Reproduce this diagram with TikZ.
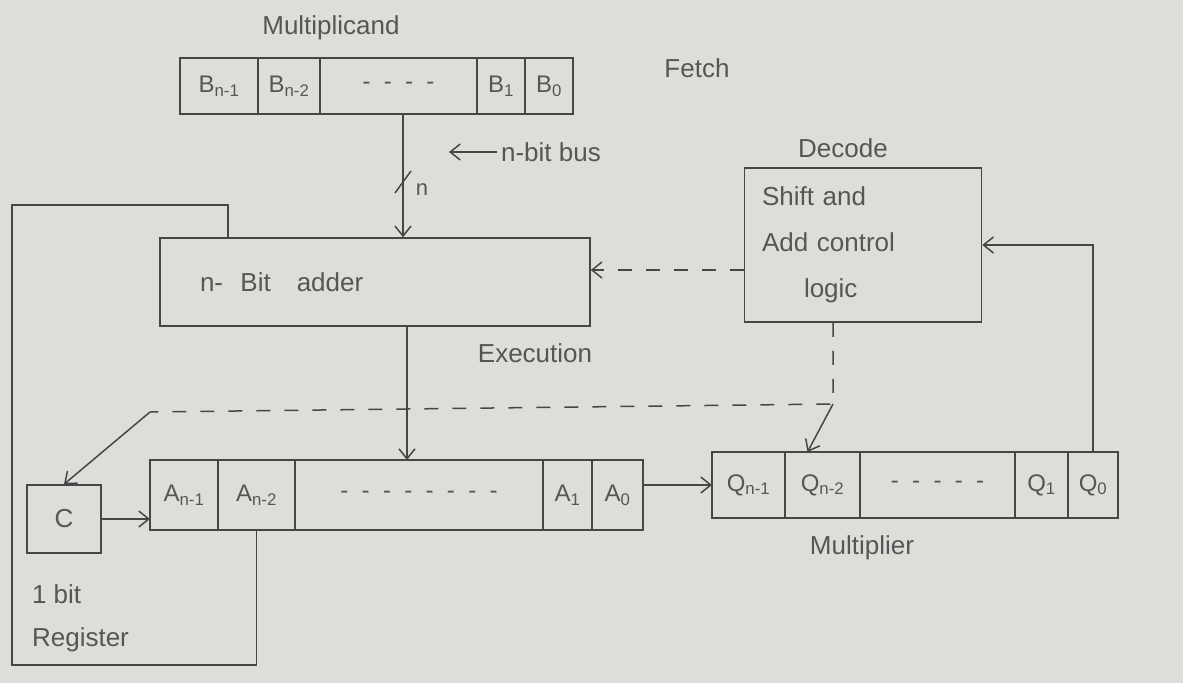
\documentclass[tikz,border=0pt]{standalone}
\usepackage{fontspec}
\setmainfont{Liberation Sans}
\usetikzlibrary{positioning,arrows.meta,calc}
\definecolor{pencil}{RGB}{70,70,70}
\definecolor{paper}{RGB}{221,221,217}
\definecolor{inkText}{RGB}{86,86,86}

\begin{document}
\begin{tikzpicture}[x=1pt, y=-1pt, line width=1.5pt, color=pencil, text=inkText,
    >={Straight Barb[length=10pt,width=16pt]},
    font=\fontsize{26}{31}\selectfont,
    cell/.style={draw, inner sep=0pt, outer sep=0pt, minimum width=#1,
      font=\fontsize{24}{28}\selectfont},
    brow/.style={cell=#1, minimum height=56pt},
    arow/.style={cell=#1, minimum height=70pt},
    qrow/.style={cell=#1, minimum height=66pt},
    dsh/.style={dash pattern=on 14pt off 14pt}]
  \useasboundingbox (0,0) rectangle (1183,683);
  \fill[paper] (0,0) rectangle (1183,683);

  % multiplicand register
  \node[brow=78pt] (b1) at (219,86) {B\textsubscript{n-1}};
  \node[brow=62pt, right=0pt of b1] (b2) {B\textsubscript{n-2}};
  \node[brow=157pt, right=0pt of b2] (b3) {-\ \ -\ \ -\ \ -};
  \node[brow=48pt, right=0pt of b3] (b4) {B\textsubscript{1}};
  \node[brow=48pt, right=0pt of b4] (b5) {B\textsubscript{0}};

  % adder and control logic
  \node[draw, minimum width=430pt, minimum height=88pt, text width=350pt, align=left] (adder) at (375,282) {n-\ \ Bit\ \ \ adder};
  \node[draw, minimum width=237pt, minimum height=154pt, text width=202pt, align=left,
    font=\fontsize{26}{46}\selectfont] (ctl) at (863,245) {Shift and\\Add control\\\hspace*{42pt}logic};

  % accumulator, carry and multiplier
  \node[draw, minimum width=74pt, minimum height=68pt, inner sep=0pt] (c) at (64,519) {C};
  \node[arow=68pt] (a1) at (184,495) {A\textsubscript{n-1}};
  \node[arow=77pt, right=0pt of a1] (a2) {A\textsubscript{n-2}};
  \node[arow=248pt, right=0pt of a2] (a3) {-\ \ -\ \ -\ \ -\ \ -\ \ -\ \ -\ \ -};
  \node[arow=49pt, right=0pt of a3] (a4) {A\textsubscript{1}};
  \node[arow=51pt, right=0pt of a4] (a5) {A\textsubscript{0}};
  \node[qrow=73pt] (q1) at (748.5,485) {Q\textsubscript{n-1}};
  \node[qrow=75pt, right=0pt of q1] (q2) {Q\textsubscript{n-2}};
  \node[qrow=155pt, right=0pt of q2] (q3) {-\ \ -\ \ -\ \ -\ \ -};
  \node[qrow=53pt, right=0pt of q3] (q4) {Q\textsubscript{1}};
  \node[qrow=50pt, right=0pt of q4] (q5) {Q\textsubscript{0}};

  % labels
  \node (mcand) at (331,28) {Multiplicand};
  \node (fetch) at (697,68) {Fetch};
  \node (decode) at (843,148) {Decode};
  \node (exec) at (535,353) {Execution};
  \node (mplier) at (862,548) {Multiplier};
  \node[anchor=west, align=left, font=\fontsize{26}{43}\selectfont] (reglbl) at (28,618) {1 bit\\Register};
  \node[anchor=west] (buslbl) at (497,152) {n-bit bus};
  \node[font=\fontsize{22}{26}\selectfont] (nlbl) at (422,190) {n};

  % n-bit bus
  \coordinate (busx) at (403,0);
  \draw[->] (b3.south -| busx) -- (adder.north -| busx);
  \coordinate (slash) at (busx |- 0,182);
  \draw (slash) ++(-8,11) -- ++(16,-22);
  \draw[->] (buslbl.west) -- ++(-48,0);

  % control lines
  \coordinate (cin) at (590,270);
  \draw[dsh,->] (ctl.west |- cin) -- (adder.east |- cin);
  \draw[->] (q5.north) |- (ctl.east);
  \coordinate (j1) at (833,404);
  \coordinate (j2) at (150,412);
  \draw[dsh] (ctl.south -| j1) -- (j1) -- (j2);
  \draw[->] (j1) -- ($(q2.north)+(-15,0)$);
  \draw[->] (j2) -- (c.north);

  % data paths
  \coordinate (outx) at (407,0);
  \draw[->] (adder.south -| outx) -- (a3.north -| outx);
  \draw[->] (c.east) -- (c.east -| a1.west);
  \draw[->] (a5.east |- q1.west) -- (q1.west);
  \coordinate (lp1) at (12,665);
  \coordinate (lp2) at (228,205);
  \draw (a2.south) |- (lp1) |- (lp2) -- (lp2 |- adder.north);
\end{tikzpicture}
\end{document}
